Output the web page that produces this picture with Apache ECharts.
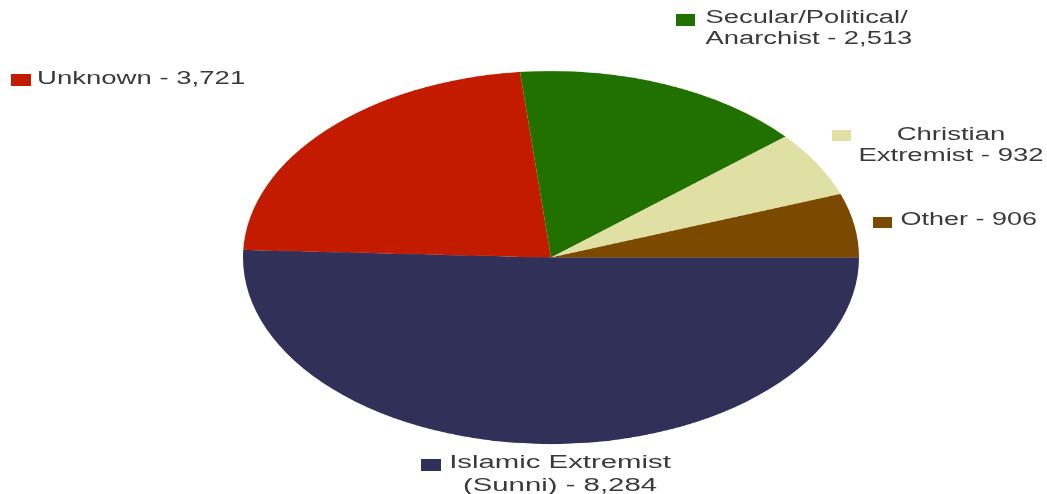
<!DOCTYPE html>
<html>
<head>
<meta charset="utf-8">
<script src="https://cdn.jsdelivr.net/npm/echarts@6/dist/echarts.min.js"></script>
<style>
html,body{margin:0;padding:0;background:#fff;overflow:hidden;width:1047px;height:494px;}
#pie{position:absolute;left:0;top:0;width:1047px;height:900px;transform:scaleY(0.6055);transform-origin:0 0;}
#labels{position:absolute;left:0;top:0;width:1047px;height:494px;}
</style>
</head>
<body>
<div id="pie"></div>
<div id="labels"></div>
<script>
// Data (clockwise from 3 o'clock)
const categories = ['Islamic Extremist\n(Sunni)', 'Unknown', 'Secular/Political/\nAnarchist', 'Christian\nExtremist', 'Other'];
const values = [8284, 3721, 2513, 932, 906];
const colors = ['#313058', '#c21b00', '#217100', '#e0e0a5', '#7b4a00'];

const pie = echarts.init(document.getElementById('pie'));
pie.setOption({
  animation: false,
  series: [{
    type: 'pie',
    center: [551, 425.3],
    radius: 308,
    startAngle: 0,
    clockwise: true,
    silent: true,
    label: {show: false},
    labelLine: {show: false},
    itemStyle: {borderWidth: 0},
    data: categories.map((c, i) => ({name: c, value: values[i], itemStyle: {color: colors[i]}}))
  }]
});

// Label layout (style only): box rect, text anchor, alignment, scaleX, line height
const layout = [
  {box: [421, 459, 20, 12], x: 560, y: 475, align: 'center', sx: 1.63, lh: 23},
  {box: [11, 74, 20, 12], x: 37, y: 79.5, align: 'left', sx: 1.53, lh: 21},
  {box: [676, 14, 19, 12], x: 705.5, y: 29, align: 'left', sx: 1.52, lh: 21},
  {box: [832, 130, 19, 11], x: 951, y: 145.5, align: 'center', sx: 1.53, lh: 20.5},
  {box: [873, 217, 19, 11], x: 900.5, y: 220.5, align: 'left', sx: 1.5, lh: 21}
];

const graphics = [];
categories.forEach((c, i) => {
  const L = layout[i];
  graphics.push({
    type: 'rect',
    shape: {x: L.box[0], y: L.box[1], width: L.box[2], height: L.box[3]},
    style: {fill: colors[i]}
  });
  graphics.push({
    type: 'text',
    x: L.x, y: L.y,
    scaleX: L.sx,
    style: {
      x: 0, y: 0,
      text: c + ' - ' + values[i].toLocaleString('en-US'),
      font: '18px "Liberation Sans", Arial, sans-serif',
      fill: '#3a3a3a',
      textAlign: L.align,
      textVerticalAlign: 'middle',
      lineHeight: L.lh
    }
  });
});

const lab = echarts.init(document.getElementById('labels'));
lab.setOption({animation: false, graphic: graphics});
</script>
</body>
</html>
